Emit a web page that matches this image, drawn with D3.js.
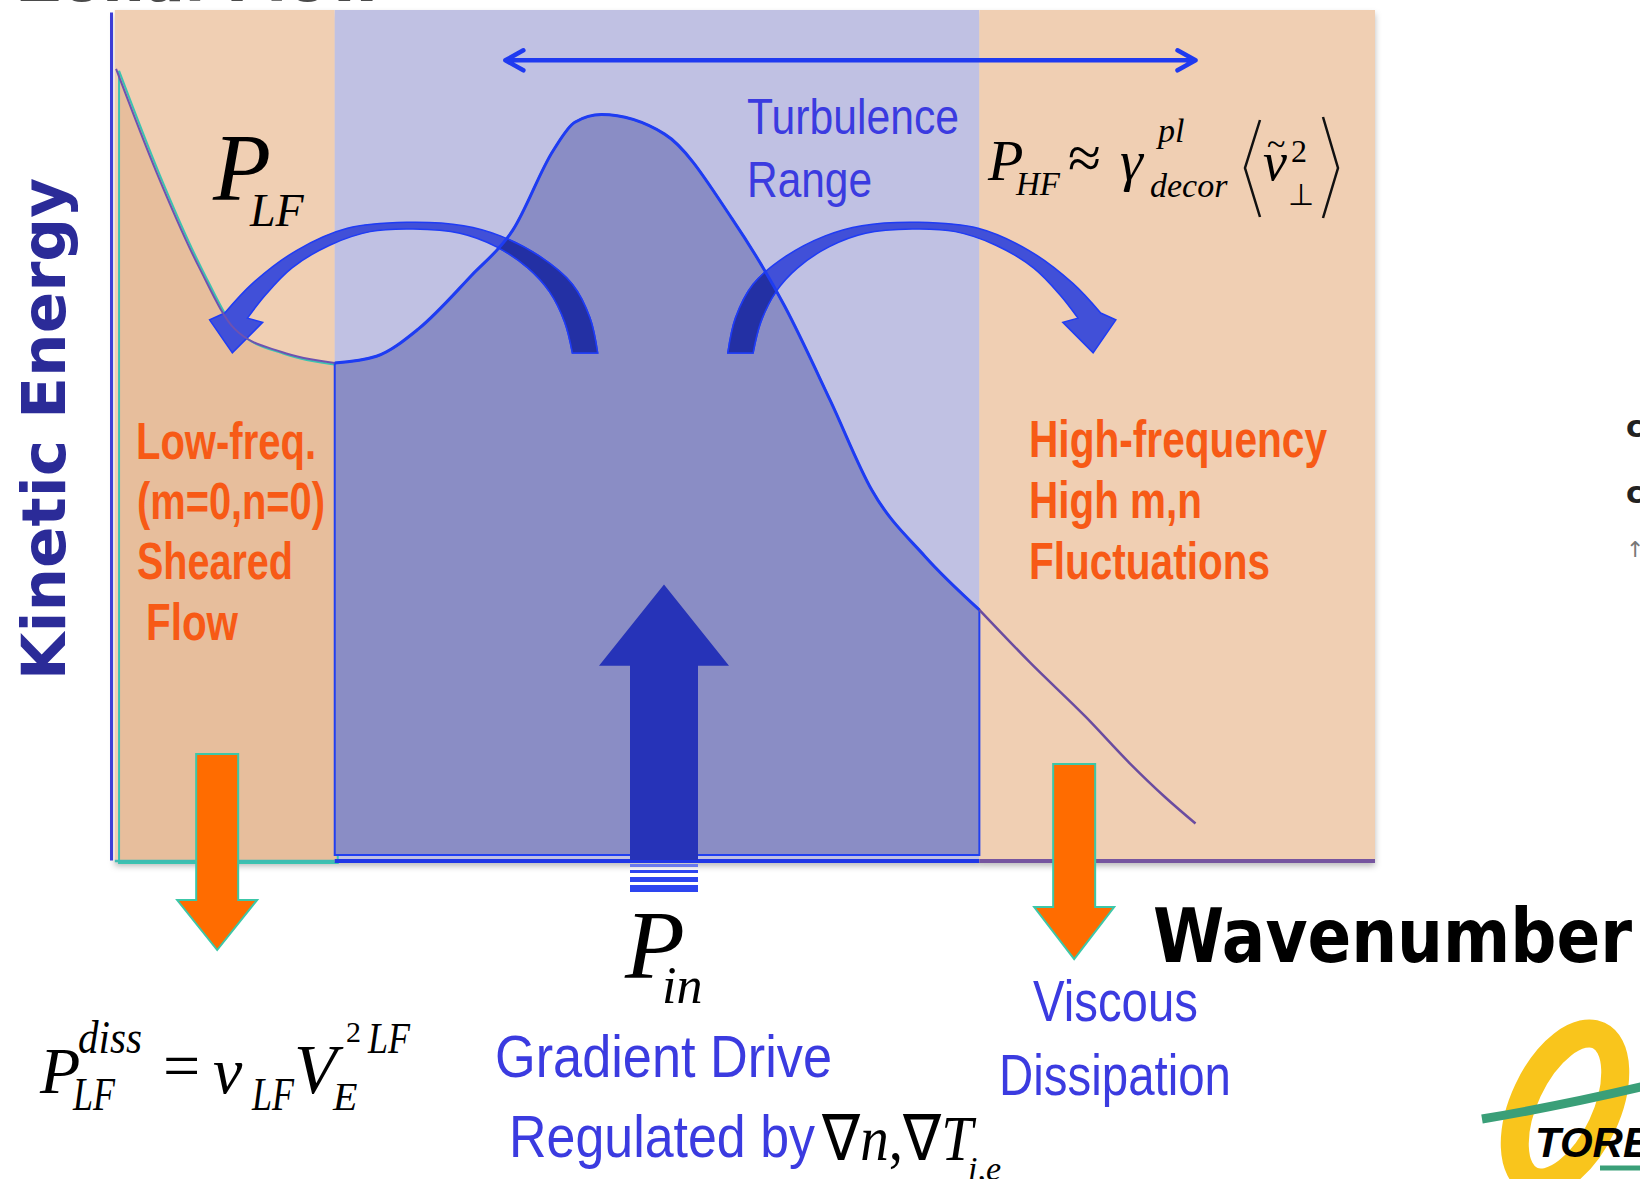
<!DOCTYPE html>
<html>
<head>
<meta charset="utf-8">
<script src="https://cdn.jsdelivr.net/npm/d3@7"></script>
<style>
  body { margin: 0; background: #fff; }
  svg { display: block; }
</style>
</head>
<body>
<div id="chart"></div>
<script>
// DATA (wavenumber and energy in arbitrary units, 0-100)
const waveK = [0.4, 3.6, 7.0, 9.8, 13.5, 17.7, 21.0, 24.3, 28.5, 31.8, 35.0, 36.7, 38.8, 43.8, 49.1, 53.3, 56.9, 60.2, 64.4, 68.7, 72.7, 77.1, 80.6, 83.4, 85.8]
const energy = [93.3, 81.1, 69.8, 62.6, 59.9, 58.6, 59.4, 62.6, 68.9, 74.3, 83.7, 87.0, 87.9, 85.6, 75.7, 65.3, 54.2, 43.6, 35.8, 29.5, 23.3, 16.9, 11.4, 7.4, 4.3]

const regionNames = ['low', 'turb', 'high']
const regionStart = [0.3, 17.7, 68.7]
const regionEnd = [17.7, 68.7, 100]

const turbulenceRange = [31.2, 85.8]

// energy transfer arrow (low-freq side), in data units; the high-freq one is its mirror
const transferOuter = [[38.5, 59.8], [37.9, 63.9], [36.5, 67.9], [33.9, 71.2], [30.8, 73.6], [27.9, 74.8], [23.4, 75.2], [18.7, 74.5], [14.7, 71.9], [11.2, 68.0], [9.0, 64.5]]
const transferHead = [[7.8, 63.7], [9.6, 59.8], [12.0, 63.4]]
const transferInner = [[10.8, 63.9], [12.2, 66.6], [14.3, 69.8], [17.3, 72.5], [20.5, 74.1], [23.9, 74.4], [27.6, 73.9], [30.5, 72.3], [33.0, 69.8], [34.7, 67.0], [35.9, 63.4], [36.5, 59.8]]
const mirrorK = 87.3

const inputK = 43.75
const dissipationK = [8.4, 76.2]

async function draw() {
  const dims = { width: 1640, height: 1179 }

  const svg = d3.select('#chart')
    .append('svg')
    .attr('width', dims.width)
    .attr('height', dims.height)

  // SCALES
  const x = d3.scaleLinear().domain([0, 100]).range([111, 1375])
  const y = d3.scaleLinear().domain([0, 100]).range([860, 12])

  const points = waveK.map((k, i) => ({ k, e: energy[i] }))
  const regions = regionNames.map((name, i) => ({ name, start: regionStart[i], end: regionEnd[i] }))
  const segment = r => points.filter(p => p.k >= r.start && p.k <= r.end)

  const defs = svg.append('defs')
  defs.append('filter').attr('id', 'shadow')
    .attr('x', '-5%').attr('y', '-5%').attr('width', '110%').attr('height', '110%')
    .append('feDropShadow')
    .attr('dx', 0).attr('dy', 4).attr('stdDeviation', 3)
    .attr('flood-color', '#000').attr('flood-opacity', 0.28)

  // BACKGROUND REGIONS
  const bgColor = { low: '#F0CFB3', turb: '#C0C1E3', high: '#F0CFB3' }
  svg.append('g')
    .attr('filter', 'url(#shadow)')
    .selectAll('rect')
    .data(regions)
    .join('rect')
    .attr('x', d => x(d.start))
    .attr('y', y(100) - 2)
    .attr('width', d => x(d.end) - x(d.start))
    .attr('height', d => y(0) - y(100) + 4)
    .attr('fill', d => bgColor[d.name])

  const curve = d3.curveMonotoneX
  const line = d3.line().x(d => x(d.k)).y(d => y(d.e)).curve(curve)

  // FILLS UNDER THE SPECTRUM
  const lowArea = d3.area().x(d => x(d.k)).y0(y(0) + 1).y1(d => y(d.e)).curve(curve)
  svg.append('path')
    .attr('d', lowArea(segment(regions[0])))
    .attr('transform', 'translate(3,2)')
    .attr('fill', '#E7BE9C')
    .attr('stroke', '#3CC3B0')
    .attr('stroke-width', 2)

  const turbArea = d3.area().x(d => x(d.k)).y0(y(0.6)).y1(d => y(d.e)).curve(curve)
  const turbPath = turbArea(segment(regions[1]))
  svg.append('path')
    .attr('d', turbPath)
    .attr('fill', '#8A8DC5')
    .attr('stroke', '#2140F0')
    .attr('stroke-width', 2)

  defs.append('clipPath').attr('id', 'turbClip')
    .append('path').attr('d', turbPath)

  // CURVED TRANSFER ARROWS
  const px = p => [x(p[0]), y(p[1])]
  const edge = d3.line().curve(d3.curveCatmullRom.alpha(0.5))
  function arrowPath(mirror) {
    const m = p => mirror ? [mirrorK - p[0], p[1]] : p
    const outer = edge(transferOuter.map(m).map(px))
    const head = transferHead.map(m).map(px).map(p => `L${p[0]},${p[1]}`).join('')
    const inner = edge(transferInner.map(m).map(px)).replace(/^M/, 'L')
    return outer + head + inner + 'Z'
  }
  const arrows = [arrowPath(false), arrowPath(true)]

  svg.append('g').selectAll('path')
    .data(arrows)
    .join('path')
    .attr('d', d => d)
    .attr('fill', '#4150D8')
    .attr('stroke', '#1F3CF5')
    .attr('stroke-width', 1.5)

  svg.append('g')
    .attr('clip-path', 'url(#turbClip)')
    .selectAll('path')
    .data(arrows)
    .join('path')
    .attr('d', d => d)
    .attr('fill', '#2330A4')
    .attr('stroke', '#1F3CF5')
    .attr('stroke-width', 1.5)

  // SPECTRUM LINE
  const lineStyle = {
    low: { stroke: '#6E52B0', width: 2 },
    turb: { stroke: '#1E3CF2', width: 3 },
    high: { stroke: '#6A4CA0', width: 2.5 },
  }
  svg.append('g')
    .selectAll('path')
    .data(regions)
    .join('path')
    .attr('d', d => line(segment(d)))
    .attr('fill', 'none')
    .attr('stroke', d => lineStyle[d.name].stroke)
    .attr('stroke-width', d => lineStyle[d.name].width)

  // AXES
  svg.append('g')
    .attr('transform', `translate(${x(0)},0)`)
    .call(d3.axisLeft(y).tickValues([]).tickSizeOuter(0))
    .call(g => g.select('.domain').attr('stroke', '#3D3DD6').attr('stroke-width', 3))

  svg.append('g')
    .attr('transform', `translate(0,${y(0)})`)
    .call(d3.axisBottom(x).tickValues([]).tickSizeOuter(0))
    .call(g => g.select('.domain').attr('stroke', 'none'))

  const axisColor = { low: '#3FBCB2', turb: '#1F36E6', high: '#76559F' }
  svg.append('g')
    .selectAll('line')
    .data(regions)
    .join('line')
    .attr('x1', d => x(d.start))
    .attr('x2', d => x(d.end))
    .attr('y1', y(0) + 1)
    .attr('y2', y(0) + 1)
    .attr('stroke', d => axisColor[d.name])
    .attr('stroke-width', d => d.name === 'low' ? 2.5 : 4)

  // ENERGY INPUT ARROW
  const cx = x(inputK)
  const tipY = y(32.5), baseY = y(22.9), axisY = y(0)
  svg.append('path')
    .attr('d', `M${cx},${tipY}L${cx + 65},${baseY}L${cx + 34},${baseY}L${cx + 34},${axisY}L${cx - 34},${axisY}L${cx - 34},${baseY}L${cx - 65},${baseY}Z`)
    .attr('fill', '#2633B8')
  svg.append('g')
    .selectAll('rect')
    .data([[864, 3], [870, 3], [877, 5], [885, 7]])
    .join('rect')
    .attr('x', cx - 34)
    .attr('width', 68)
    .attr('y', d => d[0])
    .attr('height', d => d[1])
    .attr('fill', (d, i) => i === 0 ? '#6A7AEE' : '#2D45F0')

  // DISSIPATION ARROWS
  const dissTop = [754, 764], dissBase = [900, 907], dissTip = [950, 959]
  svg.append('g')
    .selectAll('path')
    .data(dissipationK)
    .join('path')
    .attr('d', (k, i) => {
      const c = x(k)
      return `M${c - 21},${dissTop[i]}L${c + 21},${dissTop[i]}L${c + 21},${dissBase[i]}L${c + 40},${dissBase[i]}L${c},${dissTip[i]}L${c - 40},${dissBase[i]}L${c - 21},${dissBase[i]}Z`
    })
    .attr('fill', '#FF6C00')
    .attr('stroke', '#3CC7A8')
    .attr('stroke-width', 2)

  // TURBULENCE RANGE DOUBLE ARROW
  const ry = y(94.3)
  const x1 = x(turbulenceRange[0]), x2 = x(turbulenceRange[1])
  svg.append('path')
    .attr('d', `M${x1},${ry}L${x2},${ry}M${x1 + 18},${ry - 10}L${x1},${ry}L${x1 + 18},${ry + 10}M${x2 - 18},${ry - 10}L${x2},${ry}L${x2 - 18},${ry + 10}`)
    .attr('fill', 'none')
    .attr('stroke', '#1F3AF0')
    .attr('stroke-width', 4.5)
    .attr('stroke-linecap', 'round')
    .attr('stroke-linejoin', 'round')

  // TEXT
  const sansNarrow = "'Liberation Sans Narrow', 'Liberation Sans', Arial, sans-serif"
  const serif = "'Liberation Serif', 'Times New Roman', serif"
  const geo = "'DejaVu Sans', sans-serif"

  function txt(t, tx, ty, o) {
    const el = svg.append('text')
      .attr('x', tx).attr('y', ty)
      .attr('font-family', o.family || serif)
      .attr('font-size', o.size)
      .attr('fill', o.fill || '#000')
      .text(t)
    if (o.italic) el.attr('font-style', 'italic')
    if (o.bold) el.attr('font-weight', 'bold')
    if (o.len) el.attr('textLength', o.len).attr('lengthAdjust', 'spacingAndGlyphs')
    return el
  }

  // cut-off heading at top
  txt('Zonal Flow', 18, 1, { family: geo, size: 58, bold: true, fill: '#4a4a4a', len: 365 })

  svg.append('text')
    .attr('transform', 'translate(65,429) rotate(-90)')
    .attr('text-anchor', 'middle')
    .attr('font-family', geo)
    .attr('font-weight', 'bold')
    .attr('font-size', 60)
    .attr('fill', '#2B2B98')
    .attr('textLength', 502)
    .attr('lengthAdjust', 'spacingAndGlyphs')
    .text('Kinetic Energy')

  txt('Wavenumber', 1153, 962, { family: geo, size: 74, bold: true, len: 479 })

  const blue = '#3B3BE0'
  txt('Turbulence', 747, 134, { family: sansNarrow, size: 50, fill: blue, len: 212 })
  txt('Range', 747, 197, { family: sansNarrow, size: 50, fill: blue, len: 125 })

  const orange = '#F75A16'
  const lowLines = [['Low-freq.', 136, 459, 180], ['(m=0,n=0)', 137, 519, 188], ['Sheared', 137, 579, 156], ['Flow', 146, 640, 92]]
  lowLines.forEach(l => txt(l[0], l[1], l[2], { family: sansNarrow, size: 52, bold: true, fill: orange, len: l[3] }))
  const highLines = [['High-frequency', 1029, 457, 298], ['High m,n', 1029, 518, 173], ['Fluctuations', 1029, 579, 241]]
  highLines.forEach(l => txt(l[0], l[1], l[2], { family: sansNarrow, size: 52, bold: true, fill: orange, len: l[3] }))

  txt('Gradient Drive', 495, 1077, { family: sansNarrow, size: 60, fill: blue, len: 337 })
  txt('Regulated by', 509, 1157, { family: sansNarrow, size: 60, fill: blue, len: 306 })
  txt('Viscous', 1033, 1021, { family: sansNarrow, size: 58, fill: blue, len: 165 })
  txt('Dissipation', 999, 1095, { family: sansNarrow, size: 58, fill: blue, len: 232 })

  // math: gradient terms
  const grad = svg.append('text')
    .attr('x', 822).attr('y', 1160)
    .attr('font-family', serif).attr('font-size', 64)
    .attr('textLength', 151).attr('lengthAdjust', 'spacingAndGlyphs')
  grad.append('tspan').text('∇')
  grad.append('tspan').attr('font-style', 'italic').text('n')
  grad.append('tspan').text(',∇')
  grad.append('tspan').attr('font-style', 'italic').text('T')
  txt('i,e', 968, 1180, { size: 34, italic: true })

  // P_LF
  txt('P', 213, 200, { size: 95, italic: true })
  txt('LF', 250, 226, { size: 46, italic: true })

  // P_in
  txt('P', 625, 978, { size: 98, italic: true })
  txt('in', 662, 1003, { size: 52, italic: true })

  // P_HF ≈ γ^pl_decor <v~^2_perp>
  txt('P', 988, 180, { size: 58, italic: true })
  txt('HF', 1016, 195, { size: 33, italic: true })
  txt('≈', 1068, 178, { size: 60 })
  txt('γ', 1120, 180, { size: 58, italic: true })
  txt('pl', 1158, 142, { size: 34, italic: true })
  txt('decor', 1150, 197, { size: 34, italic: true })
  txt('v', 1263, 180, { size: 54, italic: true })
  txt('~', 1267, 155, { size: 34 })
  txt('2', 1291, 162, { size: 32 })
  txt('⊥', 1288, 205, { size: 30 })
  svg.append('path')
    .attr('d', 'M1260,120L1245,168L1260,217M1323,117L1338,168L1323,218')
    .attr('fill', 'none').attr('stroke', '#111').attr('stroke-width', 2.5)

  // P_LF^diss = nu_LF V_E^2 LF
  txt('P', 40, 1093, { size: 66, italic: true })
  txt('diss', 78, 1053, { size: 46, italic: true, len: 64 })
  txt('LF', 73, 1110, { size: 46, italic: true, len: 42 })
  txt('=', 163, 1088, { size: 66 })
  txt('ν', 213, 1093, { size: 66, italic: true })
  txt('LF', 252, 1110, { size: 46, italic: true, len: 42 })
  txt('V', 294, 1093, { size: 70, italic: true })
  txt('E', 333, 1110, { size: 40, italic: true })
  txt('2', 346, 1042, { size: 30 })
  txt('LF', 368, 1053, { size: 44, italic: true, len: 42 })

  // cut-off items at right edge
  txt('c', 1626, 437, { family: geo, size: 30, bold: true, fill: '#222' })
  txt('c', 1626, 503, { family: geo, size: 30, bold: true, fill: '#222' })
  txt('↑', 1626, 557, { family: geo, size: 22, fill: '#777' })

  // logo (partly outside the frame)
  const logo = svg.append('g')
  logo.append('ellipse')
    .attr('cx', 1565).attr('cy', 1108).attr('rx', 41).attr('ry', 80)
    .attr('transform', 'rotate(25,1565,1108)')
    .attr('fill', 'none').attr('stroke', '#F9C51C').attr('stroke-width', 28)
  logo.append('path')
    .attr('d', 'M1482,1119Q1560,1106 1645,1086')
    .attr('fill', 'none').attr('stroke', '#3A9F78').attr('stroke-width', 9)
  logo.append('text')
    .attr('x', 1535).attr('y', 1157)
    .attr('font-family', "'Liberation Sans', Arial, sans-serif")
    .attr('font-weight', 'bold').attr('font-style', 'italic')
    .attr('font-size', 42)
    .text('TORE SUPRA')
  logo.append('line')
    .attr('x1', 1600).attr('x2', 1640).attr('y1', 1168).attr('y2', 1168)
    .attr('stroke', '#3A9F78').attr('stroke-width', 5)
}

draw()
</script>
</body>
</html>
